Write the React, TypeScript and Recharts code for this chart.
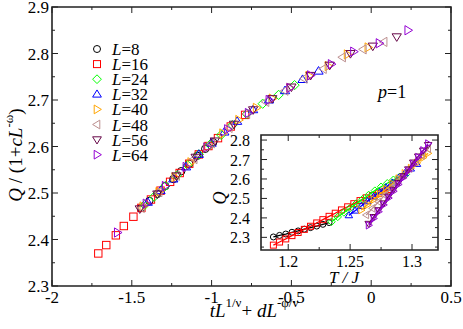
import React from "react";
import { ScatterChart, Scatter, XAxis, YAxis, ReferenceArea, Legend, Label } from "recharts";

const FONT = '"Liberation Serif", "Times New Roman", Times, serif';
const SERIF = { fontFamily: FONT };

// main panel: tL^(1/nu) + dL^(-phi/nu)  vs  Q / (1+cL^-w)
const L8_X = [-1.44, -1.39, -1.34, -1.29, -1.24, -1.19, -1.14, -1.09, -1.04, -0.99];
const L8_Y = [2.468, 2.483, 2.498, 2.515, 2.53, 2.547, 2.563, 2.58, 2.595, 2.609];
const L16_X = [-1.71, -1.66, -1.6, -1.55, -1.49, -1.44, -1.38, -1.32, -1.26, -1.2, -1.14, -1.08, -1.02, -0.96, -0.88, -0.79];
const L16_Y = [2.37, 2.388, 2.409, 2.429, 2.449, 2.468, 2.486, 2.505, 2.524, 2.543, 2.563, 2.583, 2.601, 2.618, 2.643, 2.668];
const L24_X = [-1.42, -1.36, -1.29, -1.22, -1.15, -1.08, -1.01, -0.94, -0.87, -0.78, -0.68, -0.58, -0.48];
const L24_Y = [2.474, 2.492, 2.515, 2.537, 2.56, 2.583, 2.604, 2.625, 2.646, 2.67, 2.692, 2.711, 2.732];
const L32_X = [-1.4, -1.32, -1.24, -1.16, -1.08, -1.0, -0.92, -0.84, -0.74, -0.64, -0.54, -0.43, -0.33];
const L32_Y = [2.48, 2.505, 2.53, 2.556, 2.583, 2.607, 2.631, 2.654, 2.679, 2.7, 2.72, 2.744, 2.762];
const L40_X = [-1.43, -1.33, -1.23, -1.13, -1.03, -0.93, -0.83, -0.72, -0.62, -0.51, -0.39, -0.27, -0.15, -0.02];
const L40_Y = [2.471, 2.502, 2.534, 2.566, 2.598, 2.628, 2.657, 2.683, 2.703, 2.726, 2.752, 2.773, 2.798, 2.813];
const L48_X = [-1.44, -1.33, -1.22, -1.11, -1.0, -0.89, -0.78, -0.66, -0.54, -0.42, -0.3, -0.18, -0.05, 0.08];
const L48_Y = [2.468, 2.502, 2.537, 2.573, 2.607, 2.64, 2.67, 2.696, 2.72, 2.746, 2.767, 2.792, 2.809, 2.825];
const L56_X = [-1.45, -1.34, -1.22, -1.1, -0.98, -0.86, -0.74, -0.62, -0.5, -0.38, -0.26, -0.13, 0.01, 0.16];
const L56_Y = [2.466, 2.498, 2.537, 2.577, 2.612, 2.648, 2.679, 2.703, 2.728, 2.753, 2.775, 2.8, 2.816, 2.836];
const L64_X = [-1.59, -1.41, -1.29, -1.16, -1.03, -0.9, -0.77, -0.64, -0.51, -0.38, -0.25, -0.11, 0.05, 0.23];
const L64_Y = [2.415, 2.477, 2.515, 2.556, 2.598, 2.637, 2.672, 2.7, 2.726, 2.753, 2.777, 2.804, 2.822, 2.85];

// inset: Q vs T/J
const L8_T = [1.188, 1.193, 1.198, 1.203, 1.208, 1.213, 1.218, 1.223, 1.228, 1.233];
const L8_Q = [2.302, 2.31, 2.317, 2.326, 2.333, 2.342, 2.35, 2.358, 2.367, 2.376];
const L16_T = [1.188, 1.193, 1.198, 1.203, 1.208, 1.213, 1.218, 1.223, 1.228, 1.233, 1.238, 1.243, 1.248, 1.253, 1.258, 1.263, 1.268, 1.273, 1.278, 1.282];
const L16_Q = [2.26, 2.276, 2.292, 2.309, 2.325, 2.341, 2.357, 2.374, 2.391, 2.408, 2.424, 2.441, 2.457, 2.473, 2.489, 2.503, 2.515, 2.527, 2.537, 2.546];
const L24_T = [1.235, 1.24, 1.245, 1.25, 1.255, 1.26, 1.265, 1.27, 1.275, 1.28, 1.285, 1.29, 1.295];
const L24_Q = [2.38, 2.405, 2.428, 2.451, 2.474, 2.496, 2.518, 2.54, 2.56, 2.578, 2.596, 2.611, 2.624];
const L32_T = [1.249, 1.254, 1.259, 1.264, 1.269, 1.274, 1.279, 1.284, 1.289, 1.294, 1.299, 1.304];
const L32_Q = [2.413, 2.437, 2.461, 2.485, 2.509, 2.533, 2.557, 2.581, 2.605, 2.629, 2.653, 2.677];
const L40_T = [1.259, 1.264, 1.269, 1.274, 1.279, 1.284, 1.289, 1.294, 1.299, 1.304, 1.309, 1.313];
const L40_Q = [2.44, 2.467, 2.494, 2.521, 2.548, 2.575, 2.602, 2.629, 2.656, 2.683, 2.71, 2.732];
const L48_T = [1.263, 1.268, 1.273, 1.278, 1.283, 1.288, 1.293, 1.298, 1.303, 1.308, 1.313];
const L48_Q = [2.415, 2.449, 2.483, 2.517, 2.551, 2.585, 2.619, 2.653, 2.687, 2.721, 2.755];
const L56_T = [1.265, 1.269, 1.273, 1.277, 1.281, 1.285, 1.289, 1.293, 1.297, 1.301, 1.305, 1.309, 1.313];
const L56_Q = [2.37, 2.405, 2.44, 2.475, 2.51, 2.545, 2.58, 2.615, 2.65, 2.685, 2.716, 2.746, 2.775];
const L64_T = [1.265, 1.269, 1.273, 1.277, 1.281, 1.285, 1.289, 1.293, 1.297, 1.301, 1.305, 1.309, 1.313];
const L64_Q = [2.362, 2.397, 2.432, 2.467, 2.502, 2.537, 2.572, 2.607, 2.642, 2.677, 2.712, 2.747, 2.782];

const SIZES = ["8", "16", "24", "32", "40", "48", "56", "64"];
const COLORS = ["#000000", "#ff0000", "#00ff00", "#0000ff", "#ffa500", "#bc8f8f", "#670748", "#9400d3"];
const SHAPES = ["circle", "square", "diamond", "up", "right", "left", "down", "right"];

const MAIN_X = [L8_X, L16_X, L24_X, L32_X, L40_X, L48_X, L56_X, L64_X];
const MAIN_Y = [L8_Y, L16_Y, L24_Y, L32_Y, L40_Y, L48_Y, L56_Y, L64_Y];
const INSET_T = [L8_T, L16_T, L24_T, L32_T, L40_T, L48_T, L56_T, L64_T];
const INSET_Q = [L8_Q, L16_Q, L24_Q, L32_Q, L40_Q, L48_Q, L56_Q, L64_Q];

const X_TICKS = [-2, -1.75, -1.5, -1.25, -1, -0.75, -0.5, -0.25, 0, 0.25, 0.5];
const X_LABELED = [-2, -1.5, -1, -0.5, 0, 0.5];
const Y_TICKS = [2.3, 2.35, 2.4, 2.45, 2.5, 2.55, 2.6, 2.65, 2.7, 2.75, 2.8, 2.85, 2.9];
const Y_LABELED = [2.3, 2.4, 2.5, 2.6, 2.7, 2.8, 2.9];
const T_TICKS = [1.2, 1.225, 1.25, 1.275, 1.3];
const T_LABELED = [1.2, 1.25, 1.3];
const Q_TICKS = [2.25, 2.3, 2.35, 2.4, 2.45, 2.5, 2.55, 2.6, 2.65, 2.7, 2.75, 2.8];
const Q_LABELED = [2.3, 2.4, 2.5, 2.6, 2.7, 2.8];

const W = 463;
const H = 329;
// axes take 1px (a 0px axis is not drawn), so margins are 1px short
const MAIN_MARGIN = { top: 7, right: 12, bottom: 42, left: 51 };
const INSET_W = 250;
const INSET_H = 170;
const INSET_MARGIN = { top: 10, right: 12, bottom: 44, left: 60 };

const fmt = (v: number) => (v === 0 ? "0" : String(v));
const isIn = (list: number[], v: number) => list.some((l) => Math.abs(l - v) < 1e-9);

function Marker({ cx, cy, shape, color, r }: any) {
  if (cx == null || cy == null) return null;
  const p = { fill: "none", stroke: color, strokeWidth: 1 };
  const a = r * 1.25;
  const b = r * 0.8;
  switch (shape) {
    case "circle":
      return <circle cx={cx} cy={cy} r={r} {...p} />;
    case "square":
      return <rect x={cx - r} y={cy - r} width={2 * r} height={2 * r} {...p} />;
    case "diamond":
      return <polygon points={`${cx},${cy - a} ${cx + a},${cy} ${cx},${cy + a} ${cx - a},${cy}`} {...p} />;
    case "up":
      return <polygon points={`${cx},${cy - a} ${cx + a},${cy + b} ${cx - a},${cy + b}`} {...p} />;
    case "down":
      return <polygon points={`${cx},${cy + a} ${cx + a},${cy - b} ${cx - a},${cy - b}`} {...p} />;
    case "right":
      return <polygon points={`${cx + a},${cy} ${cx - b},${cy - a} ${cx - b},${cy + a}`} {...p} />;
    default:
      return <polygon points={`${cx - a},${cy} ${cx + b},${cy - a} ${cx + b},${cy + a}`} {...p} />;
  }
}

// ticks point inward on both sides of the frame
function xTick(top: number, bottom: number, labeled: number[], fontSize: number) {
  return (props: any) => {
    const x = props.payload.coordinate;
    const v = props.payload.value;
    const major = isIn(labeled, v);
    const len = major ? 6 : 3;
    return (
      <g>
        <line x1={x} x2={x} y1={bottom} y2={bottom - len} stroke="#222" />
        <line x1={x} x2={x} y1={top} y2={top + len} stroke="#222" />
        {major ? (
          <text x={x} y={bottom + 17} textAnchor="middle" fontSize={fontSize} style={SERIF} fill="#000">
            {fmt(v)}
          </text>
        ) : null}
      </g>
    );
  };
}

function yTick(left: number, right: number, labeled: number[], fontSize: number, gap: number) {
  return (props: any) => {
    const y = props.payload.coordinate;
    const v = props.payload.value;
    const major = isIn(labeled, v);
    const len = major ? 6 : 3;
    return (
      <g>
        <line x1={left} x2={left + len} y1={y} y2={y} stroke="#222" />
        <line x1={right} x2={right - len} y1={y} y2={y} stroke="#222" />
        {major ? (
          <text x={left - gap} y={y + 6} textAnchor="end" fontSize={fontSize} style={SERIF} fill="#000">
            {fmt(v)}
          </text>
        ) : null}
      </g>
    );
  };
}

const MainXTitle = ({ viewBox }: any) => (
  <text x={viewBox.x + 202} y={viewBox.y + 31} textAnchor="middle" fontSize={19} style={SERIF} fill="#000">
    <tspan fontStyle="italic">tL</tspan>
    <tspan dy={-10} fontSize={13}>1/ν</tspan>
    <tspan dy={10}>+ </tspan>
    <tspan fontStyle="italic">dL</tspan>
    <tspan dy={-10} fontSize={13}>-φ/ν</tspan>
  </text>
);

const MainYTitle = ({ viewBox }: any) => {
  const cx = viewBox.x - 29;
  const cy = viewBox.y + 148;
  return (
    <text x={cx} y={cy} transform={`rotate(-90, ${cx}, ${cy})`} textAnchor="middle" fontSize={19} style={SERIF} fill="#000">
      <tspan fontStyle="italic">Q</tspan>
      <tspan> / (1+</tspan>
      <tspan fontStyle="italic">cL</tspan>
      <tspan dy={-9} fontSize={13}>-ω</tspan>
      <tspan dy={9}>)</tspan>
    </text>
  );
};

const PLabel = ({ viewBox }: any) => (
  <text x={viewBox.x + viewBox.width - 73} y={viewBox.y + 91} fontSize={18} style={SERIF} fill="#000">
    <tspan fontStyle="italic">p</tspan>=1
  </text>
);

const InsetXTitle = ({ viewBox }: any) => (
  <text x={viewBox.x + 83} y={viewBox.y + 33} textAnchor="middle" fontSize={17} style={SERIF} fontStyle="italic" fill="#000">
    T / J
  </text>
);

const InsetYTitle = ({ viewBox }: any) => {
  const cx = viewBox.x - 34;
  const cy = viewBox.y + 63;
  return (
    <text x={cx} y={cy} transform={`rotate(-90, ${cx}, ${cy})`} textAnchor="middle" fontSize={18} style={SERIF} fontStyle="italic" fill="#000">
      Q
    </text>
  );
};

const MainLegend = () => (
  <svg width={80} height={132} style={{ display: "block", overflow: "visible" }}>
    {SIZES.map((s, i) => (
      <g key={s}>
        <Marker cx={9} cy={11 + i * 15.1} shape={SHAPES[i]} color={COLORS[i]} r={3.5} />
        <text x={24} y={17 + i * 15.1} fontSize={17} style={SERIF} fill="#000">
          <tspan fontStyle="italic">L</tspan>={s}
        </text>
      </g>
    ))}
  </svg>
);

export default function App() {
  const mainTop = MAIN_MARGIN.top;
  const mainBottom = H - MAIN_MARGIN.bottom - 1;
  const mainLeft = MAIN_MARGIN.left + 1;
  const mainRight = W - MAIN_MARGIN.right;
  const inTop = INSET_MARGIN.top;
  const inBottom = INSET_H - INSET_MARGIN.bottom - 1;
  const inLeft = INSET_MARGIN.left + 1;
  const inRight = INSET_W - INSET_MARGIN.right;

  return (
    <div style={{ position: "absolute", left: 0, top: 0, width: W, height: H, background: "#fff", fontFamily: FONT }}>
      <ScatterChart width={W} height={H} margin={MAIN_MARGIN} style={SERIF}>
        <XAxis
          type="number"
          dataKey="x"
          domain={[-2, 0.5]}
          ticks={X_TICKS}
          interval={0}
          allowDataOverflow
          height={1}
          axisLine={false}
          tickLine={false}
          tick={xTick(mainTop, mainBottom, X_LABELED, 17)}
        >
          <Label content={MainXTitle} />
        </XAxis>
        <YAxis
          type="number"
          dataKey="y"
          domain={[2.3, 2.9]}
          ticks={Y_TICKS}
          interval={0}
          allowDataOverflow
          width={1}
          axisLine={false}
          tickLine={false}
          tick={yTick(mainLeft, mainRight, Y_LABELED, 17, 3)}
        >
          <Label content={MainYTitle} />
        </YAxis>
        <ReferenceArea x1={-2} x2={0.5} y1={2.3} y2={2.9} fill="none" stroke="#222" strokeWidth={1.6} label={PLabel} />
        {SIZES.map((s, i) => (
          <Scatter
            key={s}
            name={`L=${s}`}
            data={MAIN_X[i].map((x, j) => ({ x, y: MAIN_Y[i][j] }))}
            shape={(p: any) => <Marker cx={p.cx} cy={p.cy} shape={SHAPES[i]} color={COLORS[i]} r={3.7} />}
            isAnimationActive={false}
          />
        ))}
        <Legend
          layout="vertical"
          align="center"
          verticalAlign="middle"
          content={MainLegend}
          wrapperStyle={{ left: 88, top: 38, width: 80, height: 132 }}
        />
      </ScatterChart>

      <div style={{ position: "absolute", left: 200, top: 125, width: INSET_W, height: INSET_H }}>
        <div
          style={{
            position: "absolute",
            left: inLeft,
            top: inTop,
            width: inRight - inLeft,
            height: inBottom - inTop,
            background: "#fff",
          }}
        />
        <div style={{ position: "absolute", left: 0, top: 0 }}>
          <ScatterChart width={INSET_W} height={INSET_H} margin={INSET_MARGIN} style={SERIF}>
            <XAxis
              type="number"
              dataKey="x"
              domain={[1.178, 1.321]}
              ticks={T_TICKS}
              interval={0}
              allowDataOverflow
              height={1}
              axisLine={false}
              tickLine={false}
              tick={xTick(inTop, inBottom, T_LABELED, 16)}
            >
              <Label content={InsetXTitle} />
            </XAxis>
            <YAxis
              type="number"
              dataKey="y"
              domain={[2.235, 2.826]}
              ticks={Q_TICKS}
              interval={0}
              allowDataOverflow
              width={1}
              axisLine={false}
              tickLine={false}
              tick={yTick(inLeft, inRight, Q_LABELED, 16, 11)}
            >
              <Label content={InsetYTitle} />
            </YAxis>
            <ReferenceArea x1={1.178} x2={1.321} y1={2.235} y2={2.826} fill="none" stroke="#222" strokeWidth={1.6} />
            {SIZES.map((s, i) => (
              <Scatter
                key={s}
                data={INSET_T[i].map((x, j) => ({ x, y: INSET_Q[i][j] }))}
                line={{ stroke: COLORS[i], strokeWidth: 1.3 }}
                lineType="joint"
                shape={(p: any) => <Marker cx={p.cx} cy={p.cy} shape={SHAPES[i]} color={COLORS[i]} r={3} />}
                isAnimationActive={false}
              />
            ))}
          </ScatterChart>
        </div>
      </div>
    </div>
  );
}
